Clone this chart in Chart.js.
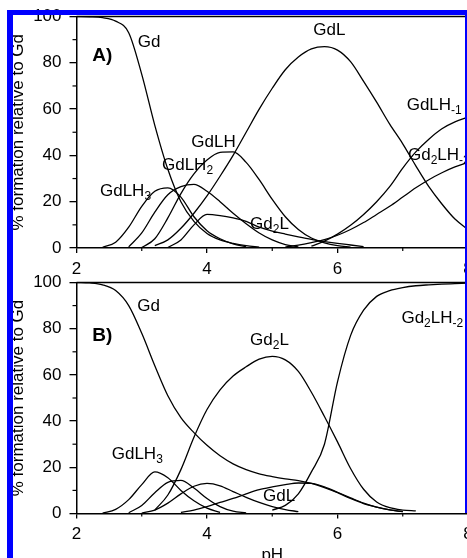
<!DOCTYPE html>
<html>
<head>
<meta charset="utf-8">
<script src="https://cdn.jsdelivr.net/npm/chart.js@4.4.0/dist/chart.umd.min.js"></script>
<style>
  html, body { margin: 0; padding: 0; background: #fff; overflow: hidden; }
  #wrap { position: relative; width: 467px; height: 558px; overflow: hidden; background: #fff; }
  canvas { position: absolute; left: 0; }
  #chartA { top: 0; }
  #chartB { top: 266px; }
  .blue { position: absolute; background: #0000ff; }
</style>
</head>
<body>
<div id="wrap">
  <canvas id="chartA" width="490" height="290"></canvas>
  <canvas id="chartB" width="490" height="320"></canvas>
  <div class="blue" style="left:7px;top:10px;width:5.5px;height:548px"></div>
  <div class="blue" style="left:7px;top:10px;width:460px;height:5px"></div>
  <div class="blue" style="left:465px;top:10px;width:2px;height:503px"></div>
</div>
<script>
// pH grid shared by every curve
const pH = [2.0, 2.2, 2.4, 2.6, 2.8, 3.0, 3.2, 3.4, 3.6, 3.8, 4.0, 4.2, 4.4, 4.6, 4.8, 5.0,
            5.2, 5.4, 5.6, 5.8, 6.0, 6.2, 6.4, 6.6, 6.8, 7.0, 7.2, 7.4, 7.6, 7.8, 8.0];
const _ = null;

// Panel A (% of Gd)
const gdA      = [100, 99.9, 99.5, 98, 93, 75, 53, 34, 20, 11.5, 6.3, 3.5, 2, 1, 0.4, _, _, _, _, _, _, _, _, _, _, _, _, _, _, _, _];
const gdlh3A   = [_, _, 0.3, 2.5, 9, 18, 24.5, 26, 22, 13.5, 7.5, 4, 1.8, 0.5, _, _, _, _, _, _, _, _, _, _, _, _, _, _, _, _, _];
const gdlh2A   = [_, _, _, _, 0.5, 6.5, 15.5, 23, 26.5, 27.5, 24.5, 20, 15, 10.5, 6.5, 3.5, 1.5, 0.5, _, _, _, _, _, _, _, _, _, _, _, _, _];
const gdlhA    = [_, _, _, _, _, 0.2, 4, 13, 23.5, 32, 38, 41.3, 41.5, 37, 29.5, 21, 13.5, 8, 4.3, 2.2, 1, 0.4, _, _, _, _, _, _, _, _, _];
const gdlA     = [_, _, _, _, _, _, 1, 3.5, 8.5, 15, 22.5, 31, 40, 50, 60, 69, 77, 82.5, 86, 87, 85.5, 80.5, 72, 63, 53.5, 45, 35.5, 26.5, 19, 12.5, 8];
const gd2lA    = [_, _, _, _, _, _, _, 0.2, 3.5, 10, 14.5, 14, 13, 11.5, 9, 7.3, 6, 4.8, 3.7, 2.8, 2, 1.3, 0.6, _, _, _, _, _, _, _, _];
const gdlhm1A  = [_, _, _, _, _, _, _, _, _, _, _, _, _, _, _, _, _, _, 0.8, 3, 6, 9.8, 14.5, 20, 26.5, 34.5, 41.5, 47, 51.5, 54.5, 56.5];
const gd2lhm2A = [_, _, _, _, _, _, _, _, _, _, _, _, _, _, _, _, 0.4, 1.2, 2.3, 3.6, 5.5, 8, 11, 14.5, 18, 22, 26, 29.5, 32.5, 35, 37];

// Panel B (% of Gd)
const gdB      = [100, 99.8, 99, 96.5, 90, 78, 64, 51, 41.5, 35, 29.5, 25, 21.5, 19, 17.2, 16, 15, 14.2, 13, 11.2, 9, 6.5, 4.3, 2.8, 1.6, 0.8, _, _, _, _, _];
const gdlh3B   = [_, _, 0.2, 1.8, 6, 12.5, 18, 15.5, 10, 5.5, 2.3, 0.5, _, _, _, _, _, _, _, _, _, _, _, _, _, _, _, _, _, _, _];
const gdlh2B   = [_, _, _, _, 0.3, 3.5, 9, 13.5, 14.3, 11, 6.5, 3, 1, 0.3, _, _, _, _, _, _, _, _, _, _, _, _, _, _, _, _, _];
const gdlhB    = [_, _, _, _, _, 0.2, 1.5, 4.5, 8.5, 11.8, 13, 12, 9.5, 7, 4.8, 3, 1.7, 0.8, _, _, _, _, _, _, _, _, _, _, _, _, _];
const gdlB     = [_, _, _, _, _, _, _, _, 0.5, 1.5, 3, 4.8, 6.5, 8.5, 10.3, 11.5, 12.5, 13.2, 13, 11.5, 9.2, 6.8, 4.5, 2.8, 1.6, 0.8, _, _, _, _, _];
const gd2lB    = [_, _, _, _, _, _, 1.5, 8, 19, 33, 45, 53.5, 59.5, 63.5, 66.8, 68, 66.5, 61.5, 52.5, 42, 31, 19.5, 10.5, 5, 2.5, 1.5, 1.1, _, _, _, _];
const gd2lhm2B = [_, _, _, _, _, _, _, _, _, _, _, _, _, _, _, 1.5, 3.5, 8.5, 18, 30, 57, 77, 88, 94, 96.5, 97.8, 98.6, 99, 99.3, 99.5, 99.7];

// tick values
const xMajor = [2, 4, 6, 8];
const xMinor = [3, 5, 7];
const yMinor = [10, 30, 50, 70, 90];

// curve annotations: '_' prefix marks a subscript piece
const labelsA = [
  { parts: ['A)'], bold: true, x: 2.24, y: 80.9 },
  { parts: ['Gd'], x: 2.94, y: 87 },
  { parts: ['GdL'], x: 5.63, y: 92.2 },
  { parts: ['GdLH'], x: 3.76, y: 43.8 },
  { parts: ['GdLH', '_2'], x: 3.31, y: 33.7 },
  { parts: ['GdLH', '_3'], x: 2.36, y: 22.5 },
  { parts: ['Gd', '_2', 'L'], x: 4.66, y: 8.4 },
  { parts: ['GdLH', '_-1'], x: 7.06, y: 59.6 },
  { parts: ['Gd', '_2', 'LH', '_-2'], x: 7.08, y: 38 }
];
const labelsB = [
  { parts: ['B)'], bold: true, x: 2.24, y: 74.7 },
  { parts: ['Gd'], x: 2.93, y: 87.7 },
  { parts: ['Gd', '_2', 'L'], x: 4.66, y: 72.9 },
  { parts: ['Gd', '_2', 'LH', '_-2'], x: 6.98, y: 82.5 },
  { parts: ['GdLH', '_3'], x: 2.54, y: 23.4 },
  { parts: ['GdL'], x: 4.86, y: 5.2 }
];

const FONT = '"Liberation Sans", Arial, sans-serif';
Chart.defaults.font.family = FONT;
Chart.defaults.color = '#000';

function toPoints(vals) {
  return pH.map((p, i) => vals[i] == null ? null : { x: p, y: vals[i] }).filter(Boolean);
}

// draws the top frame, minor ticks and the species labels
const extras = {
  id: 'extras',
  afterDraw(chart, args, opts) {
    const ctx = chart.ctx;
    const xs = chart.scales.x, ys = chart.scales.y;
    const area = chart.chartArea;
    ctx.save();
    ctx.strokeStyle = '#000';
    ctx.lineWidth = 1.5;
    ctx.beginPath();
    const top = ys.getPixelForValue(100);
    ctx.moveTo(area.left, top);
    ctx.lineTo(area.right + 5, top);
    ctx.stroke();

    ctx.lineWidth = 1.2;
    yMinor.forEach(v => {
      const py = ys.getPixelForValue(v);
      ctx.beginPath();
      ctx.moveTo(area.left - 4, py);
      ctx.lineTo(area.left, py);
      ctx.stroke();
    });
    xMinor.forEach(v => {
      const px = xs.getPixelForValue(v);
      ctx.beginPath();
      ctx.moveTo(px, area.bottom);
      ctx.lineTo(px, area.bottom + 3);
      ctx.stroke();
    });

    ctx.fillStyle = '#000';
    ctx.textAlign = 'left';
    ctx.textBaseline = 'alphabetic';
    opts.labels.forEach(lb => {
      let px = xs.getPixelForValue(lb.x);
      const py = ys.getPixelForValue(lb.y);
      lb.parts.forEach(part => {
        if (part.startsWith('_')) {
          ctx.font = '12px ' + FONT;
          const t = part.slice(1);
          ctx.fillText(t, px, py + 4);
          px += ctx.measureText(t).width;
        } else {
          ctx.font = (lb.bold ? 'bold 19px ' : '17px ') + FONT;
          ctx.fillText(part, px, py);
          px += ctx.measureText(part).width;
        }
      });
    });
    ctx.restore();
  }
};

function makeChart(id, series, labels, xTitle, plotBottom, canvasH) {
  return new Chart(document.getElementById(id), {
    type: 'line',
    data: {
      datasets: series.map(vals => ({
        data: toPoints(vals),
        borderColor: '#000',
        borderWidth: 1.3,
        pointRadius: 0,
        fill: false,
        cubicInterpolationMode: 'monotone'
      }))
    },
    options: {
      responsive: false,
      animation: false,
      layout: { padding: { top: 16.5, right: 22, left: 0, bottom: 0 } },
      plugins: {
        legend: { display: false },
        tooltip: { enabled: false },
        extras: { labels: labels }
      },
      scales: {
        x: {
          type: 'linear',
          min: 2,
          max: 8,
          afterBuildTicks: s => { s.ticks = xMajor.map(v => ({ value: v })); },
          ticks: { font: { size: 17 }, padding: 6, color: '#000' },
          grid: { drawOnChartArea: false, tickLength: 5, color: '#000', lineWidth: 1.3 },
          border: { display: true, color: '#000', width: 1.5 },
          title: { display: !!xTitle, text: xTitle || '', font: { size: 17 }, color: '#000', padding: { top: 0, bottom: 20 } },
          afterFit: s => { s.height = canvasH - plotBottom; s.paddingLeft = 0; s.paddingRight = 0; }
        },
        y: {
          min: 0,
          max: 100,
          ticks: { stepSize: 20, font: { size: 17 }, padding: 8, color: '#000' },
          grid: { drawOnChartArea: false, tickLength: 7, color: '#000', lineWidth: 1.3 },
          border: { display: true, color: '#000', width: 1.5 },
          title: { display: true, text: '% formation relative to Gd', font: { size: 17 }, color: '#000', padding: { top: 8, bottom: 0 } },
          afterFit: s => { s.width = 76.5; s.paddingTop = 0; s.paddingBottom = 0; }
        }
      }
    },
    plugins: [extras]
  });
}

makeChart('chartA', [gdA, gdlh3A, gdlh2A, gdlhA, gdlA, gd2lA, gdlhm1A, gd2lhm2A], labelsA, null, 248, 290);
makeChart('chartB', [gdB, gdlh3B, gdlh2B, gdlhB, gdlB, gd2lB, gd2lhm2B], labelsB, 'pH', 247.5, 320);
</script>
</body>
</html>
